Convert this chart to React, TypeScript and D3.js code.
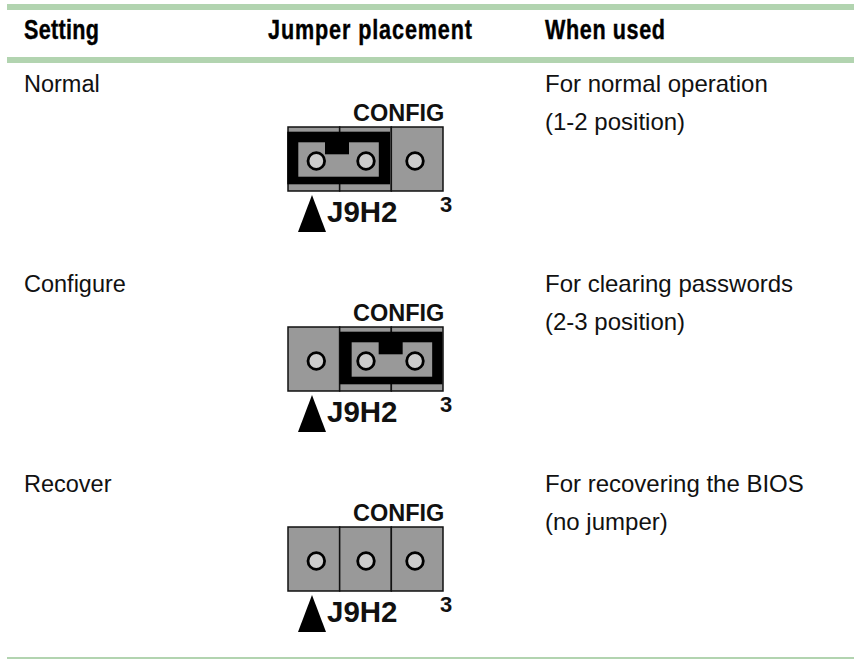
import React, { useEffect, useRef } from 'react';
import * as d3 from 'd3';

const headers = ['Setting', 'Jumper placement', 'When used'];
const settings = ['Normal', 'Configure', 'Recover'];
const whenUsed = ['For normal operation', 'For clearing passwords', 'For recovering the BIOS'];
const positions = ['(1-2 position)', '(2-3 position)', '(no jumper)'];
// index of the first pin the jumper covers, null when there is none
const jumperStart: (number | null)[] = [0, 1, null];
const pins = [0, 1, 2];

const green = '#b2d4b0';
const grey = '#999999';

const App = () => {
    const ref = useRef<SVGSVGElement>(null);

    useEffect(() => {
        const svg = d3.select(ref.current);
        svg.selectAll('*').remove();

        const rowY = d3.scaleOrdinal<string, number>().domain(settings).range([0, 200, 400]);
        const pinX = d3.scaleLinear().domain([0, 3]).range([288, 443]);
        const holeX = d3.scaleOrdinal<number, number>().domain(pins).range([316.3, 366, 415]);

        // green rules
        [[4, 6], [57, 6], [657, 2]].forEach(([y, h]) => {
            svg.append('rect').attr('x', 7).attr('y', y).attr('width', 847).attr('height', h).attr('fill', green);
        });

        // header, condensed face faked by squeezing the bold one
        const squeeze = 0.8;
        const headX = [24, 268, 545];
        const headW = [75, 204, 120];
        headers.forEach((h, i) => {
            svg.append('text')
                .attr('transform', `translate(${headX[i]},39) scale(${squeeze},1)`)
                .attr('font-family', '"Liberation Sans", Arial, sans-serif')
                .attr('font-weight', 700)
                .attr('font-size', 27)
                .attr('stroke', '#000')
                .attr('stroke-width', 0.4)
                .attr('textLength', headW[i] / squeeze)
                .attr('lengthAdjust', 'spacing')
                .text(h);
        });

        settings.forEach((s, i) => {
            const g = svg.append('g').attr('transform', `translate(0,${rowY(s)})`);
            const text = (x: number, y: number, t: string, size: number, weight = 400) =>
                g.append('text').attr('x', x).attr('y', y)
                    .attr('font-family', '"Liberation Sans", Arial, sans-serif')
                    .attr('font-size', size).attr('font-weight', weight).attr('fill', '#111').text(t);

            text(24, 92, s, 23.5);
            text(545, 92, whenUsed[i], 24);
            text(545, 130, positions[i], 24);
            text(353, 121, 'CONFIG', 23.5, 700);
            text(327, 222, 'J9H2', 29.5, 700);
            text(440, 212, '3', 22, 700);

            // arrow
            g.append('path').attr('d', d3.line()([[298, 232], [312, 195], [326, 232]])!).attr('fill', '#000');

            // pin block
            pins.forEach((p) => {
                g.append('rect')
                    .attr('x', pinX(p)).attr('y', 127)
                    .attr('width', pinX(p + 1) - pinX(p)).attr('height', 64)
                    .attr('fill', grey).attr('stroke', '#111').attr('stroke-width', 1.5);
            });

            // jumper
            const start = jumperStart[i];
            if (start !== null) {
                const x0 = pinX(start);
                const dx = x0 - pinX(0);
                g.append('rect').attr('x', x0 - 0.7 + (start ? 0.7 : 0)).attr('y', 131.7)
                    .attr('width', 102.7).attr('height', 52.6).attr('fill', '#000');
                g.append('rect').attr('x', 298.3 + dx + (start ? 1.7 : 0)).attr('y', 142.3)
                    .attr('width', 80.5).attr('height', 34.4).attr('fill', grey);
                g.append('rect').attr('x', 325 + dx + (start ? 2 : 0)).attr('y', 140)
                    .attr('width', 24).attr('height', 14.3).attr('fill', '#000');
            }

            // holes
            pins.forEach((p) => {
                g.append('circle').attr('cx', holeX(p)!).attr('cy', 161).attr('r', 8.3)
                    .attr('fill', '#cccccc').attr('stroke', '#000').attr('stroke-width', 2.8);
            });
        });
    }, []);

    return (
        <svg ref={ref} width={854} height={659}
            style={{ position: 'absolute', left: 0, top: 0, background: '#fff' }} />
    );
};

export default App;
